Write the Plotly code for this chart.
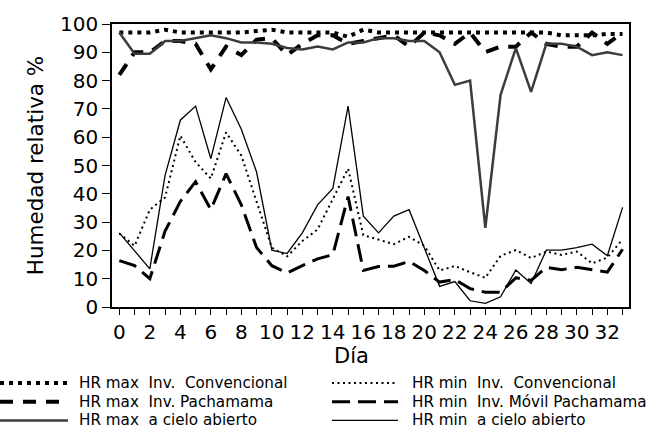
import plotly.graph_objects as go

# ---------------- data ----------------
days = list(range(34))
x_tick_labels = [str(d) if d % 2 == 0 else "" for d in days]
y_tick_vals = list(range(0, 101, 10))

hr_max_conv = [97, 97, 97, 98, 97, 97, 97, 97, 97, 97.5, 98, 97, 97, 97, 97, 95.5, 98, 97,
               97, 97, 97, 97, 97, 97, 97, 97, 97, 97, 97, 96, 96, 96, 96.5, 96.5]
hr_max_pach = [82, 90, 90, 94, 94, 93, 84, 92, 89, 94.5, 95, 89, 93, 96, 96, 93, 94, 95,
               96, 92, 97, 96, 93, 97, 90, 92, 92, 97, 93, 92, 92, 97, 93, 97]
hr_max_open = [97, 89.5, 89.5, 94, 94, 95, 96, 95, 93.5, 93.5, 93, 91.5, 91, 92, 91, 93.5, 93.5, 95,
               95, 94, 94, 90, 78.5, 80, 28, 75, 91.5, 76, 93, 93, 92, 89, 90, 89]
hr_min_conv = [26, 21.6, 34.4, 38.7, 60.5, 51.2, 45.4, 61.7, 53.5, 37.3, 21, 17.9, 23.3, 27.4, 38.4, 48.9, 25.4, 23.7,
               22.2, 24.8, 21.6, 12.9, 14.5, 12.3, 10.3, 18.1, 20.1, 17.3, 19.6, 18.4, 19.6, 15.4, 17.5, 23.9]
hr_min_pach = [16.4, 14.6, 10, 26.8, 37.3, 44.3, 34.4, 47.1, 36.1, 21, 14.6, 12, 14.6, 17, 18.5, 39, 12.9, 14.3,
               14.4, 16.1, 12.9, 8.8, 9.7, 6.5, 5.2, 5.2, 10.3, 9.4, 14, 13.2, 14, 13.2, 12.3, 20.4]
hr_min_open = [26.2, 20, 13.5, 46.5, 66, 71, 52.4, 74, 62.8, 47.7, 20.1, 18.9, 26.2, 36.1, 41.9, 71, 32.1, 26.2,
               32.1, 34.4, 21, 7.3, 9, 2.2, 1.3, 3.6, 13.1, 8.3, 20.1, 20.1, 21, 22.2, 18.1, 35.2]

names = [
    "HR max\u00a0 Inv.\u00a0 Convencional",
    "HR max\u00a0 Inv. Pachamama",
    "HR max\u00a0 a cielo abierto",
    "HR min\u00a0 Inv.\u00a0 Convencional",
    "HR min\u00a0 Inv. Móvil Pachamama",
    "HR min\u00a0 a cielo abierto",
]
series = [hr_max_conv, hr_max_pach, hr_max_open, hr_min_conv, hr_min_pach, hr_min_open]

# ---------------- styles ----------------
styles = [
    dict(color="black", width=4, dash="4px,5px"),
    dict(color="black", width=4, dash="13px,10px"),
    dict(color="#3c3c3c", width=2.5, dash="solid"),
    dict(color="black", width=2, dash="2px,3.5px"),
    dict(color="black", width=3, dash="18px,8px"),
    dict(color="black", width=1.3, dash="solid"),
]

FONT = "DejaVu Sans"
W, H = 666, 429
ML, MR, MT, MB = 112, 37, 20, 122
PW = W - ML - MR
PH = H - MT - MB

fig = go.Figure()
for name, ys, st in zip(names, series, styles):
    fig.add_trace(go.Scatter(x=days, y=ys, mode="lines", name=name,
                             line=st, showlegend=False))

# ---------------- manual legend (two columns) ----------------
def px2paper_x(px):
    return (px - ML) / PW

def px2paper_y(py):
    return (H - MB - py) / PH

rows_y = [384, 403, 422]
cols = [(0, 68, 77), (332, 398, 410)]
shapes = []
annotations = []
for i, (name, st) in enumerate(zip(names, styles)):
    col = i // 3
    row = i % 3
    x0, x1, xt = cols[col]
    yy = px2paper_y(rows_y[row])
    shapes.append(dict(type="line", xref="paper", yref="paper",
                       x0=px2paper_x(x0), x1=px2paper_x(x1), y0=yy, y1=yy,
                       line=st))
    annotations.append(dict(text=name, xref="paper", yref="paper",
                            x=px2paper_x(xt), y=yy, xanchor="left", yanchor="middle",
                            showarrow=False, font=dict(family=FONT, size=15.2, color="black")))

# x-axis title
annotations.append(dict(text="Día", xref="paper", yref="paper",
                        x=px2paper_x(351), y=px2paper_y(357), xanchor="center", yanchor="middle",
                        showarrow=False, font=dict(family=FONT, size=21, color="black")))

fig.update_layout(
    width=W, height=H,
    margin=dict(l=ML, r=MR, t=MT, b=MB, pad=0),
    paper_bgcolor="white", plot_bgcolor="white",
    font=dict(family=FONT, color="black"),
    shapes=shapes,
    annotations=annotations,
    xaxis=dict(range=[-0.48, 33.42], tickmode="array", tickvals=days, ticktext=x_tick_labels,
               ticks="outside", ticklen=6, tickwidth=1, tickcolor="black",
               showline=True, linecolor="black", linewidth=1.5, mirror=True,
               showgrid=False, zeroline=False, tickangle=0,
               tickfont=dict(family=FONT, size=20, color="black")),
    yaxis=dict(range=[0, 100], tickmode="array", tickvals=y_tick_vals,
               ticks="outside", ticklen=8, tickwidth=1, tickcolor="black",
               showline=True, linecolor="black", linewidth=1.5, mirror=True,
               showgrid=False, zeroline=False,
               tickfont=dict(family=FONT, size=20, color="black"),
               title=dict(text="Humedad relativa %", standoff=11,
                          font=dict(family=FONT, size=21.5, color="black"))),
)

fig.write_html("out.html")
